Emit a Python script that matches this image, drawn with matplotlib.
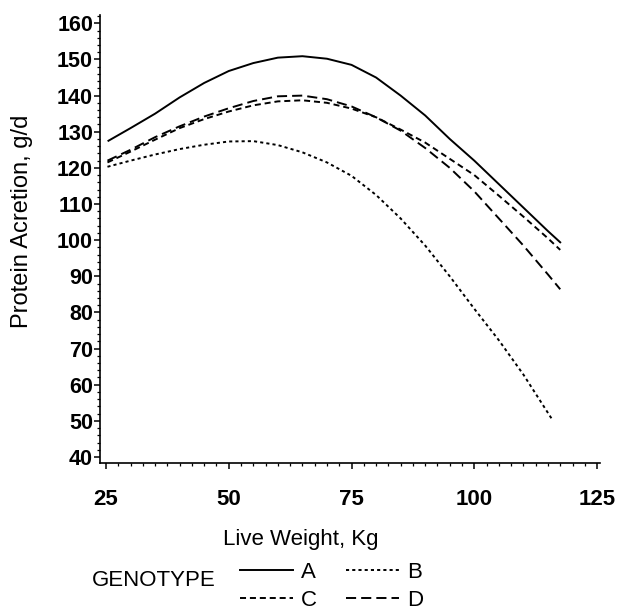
import numpy as np
import matplotlib.pyplot as plt
from matplotlib.lines import Line2D
from matplotlib.ticker import MultipleLocator

plt.rcParams['font.family'] = ['Liberation Sans', 'DejaVu Sans']

# live weight, kg
w_a = [25.5, 30, 35, 40, 45, 50, 55, 60, 65, 70, 75, 80, 85, 90, 95, 100, 105, 110, 115, 117.5]
prot_a = [127.5, 131, 135, 139.5, 143.5, 146.8, 149, 150.5, 150.9, 150.2, 148.5, 145, 140,
          134.5, 128, 122, 115.5, 109, 102.5, 99.4]

w_b = [25.3, 30, 35, 40, 45, 50, 55, 60, 65, 70, 75, 80, 85, 90, 95, 100, 105, 110, 115.8]
prot_b = [120.3, 122, 123.7, 125.2, 126.4, 127.3, 127.4, 126.3, 124.3, 121.5, 117.8, 112.5,
          106, 98.5, 90, 81, 72.3, 62.8, 50.5]

w_c = [25.3, 30, 35, 40, 45, 50, 55, 60, 65, 70, 75, 80, 85, 90, 95, 100, 105, 110, 115, 117.5]
prot_c = [121.5, 124.5, 127.8, 131, 133.5, 135.6, 137.3, 138.4, 138.7, 138, 136.4, 134, 130.6,
          127, 122.5, 118, 112.3, 106.5, 100.5, 97.3]

w_d = [25.3, 30, 35, 40, 45, 50, 55, 60, 65, 70, 75, 80, 85, 90, 95, 100, 105, 110, 115, 117.5]
prot_d = [122, 125, 128.5, 131.5, 134.2, 136.5, 138.5, 139.8, 140, 139, 137, 134, 130.3,
          125.5, 120, 113.5, 106, 98.5, 90.5, 86.4]

genotypes = ['A', 'B', 'C', 'D']

fig = plt.figure(figsize=(6.17, 6.14), dpi=100)
ax = fig.add_axes([100 / 617, 151 / 614, 500 / 617, 448 / 614])

lw = 1.4
styles = {
    'A': dict(ls='-'),
    'B': dict(ls=(0, (1.6, 1.6))),
    'C': dict(ls=(0, (3.1, 2.0))),
    'D': dict(ls=(0, (5.2, 2.6))),
}
series = {'A': (w_a, prot_a), 'B': (w_b, prot_b), 'C': (w_c, prot_c), 'D': (w_d, prot_d)}
for g in genotypes:
    x, y = series[g]
    ax.plot(x, y, color='black', lw=lw, **styles[g])

ax.set_xlim(23.78, 125.6)
ax.set_ylim(38.33, 162.3)
ax.xaxis.set_major_locator(MultipleLocator(25))
ax.xaxis.set_minor_locator(MultipleLocator(2.5))
ax.yaxis.set_major_locator(MultipleLocator(10))
ax.yaxis.set_minor_locator(MultipleLocator(2))

for s in ['top', 'right']:
    ax.spines[s].set_visible(False)
for s in ['left', 'bottom']:
    ax.spines[s].set_linewidth(1.2)

ax.tick_params(which='major', direction='out', length=4, width=1.1)
ax.tick_params(which='minor', direction='out', length=2.2, width=0.9)
ax.tick_params(axis='x', which='major', labelsize=16, pad=15)
ax.tick_params(axis='y', which='major', labelsize=15.5, pad=1)
for lab in ax.get_xticklabels() + ax.get_yticklabels():
    lab.set_fontweight('bold')

ax.set_xlabel('Live Weight, Kg', fontsize=16)
ax.xaxis.set_label_coords(0.401, -0.147)
ax.xaxis.label.set_va('top')
ax.set_ylabel('Protein Acretion, g/d', fontsize=17)
ax.yaxis.set_label_coords(-0.134, 0.54)

fig.text(92 / 617, 1 - 580 / 614, 'GENOTYPE', fontsize=16, ha='left', va='center')

handles = [Line2D([], [], color='black', lw=lw, **styles[g]) for g in genotypes]
order = [0, 2, 1, 3]
fig.legend([handles[i] for i in order], [genotypes[i] for i in order],
           ncol=2, loc='upper left', bbox_to_anchor=(240 / 617, 1 - 562 / 614),
           frameon=False, fontsize=16, handlelength=2.4, handletextpad=0.36,
           columnspacing=1.27, labelspacing=0.3, borderpad=0, borderaxespad=0)

fig.savefig('out.png', dpi=100, facecolor='white')
